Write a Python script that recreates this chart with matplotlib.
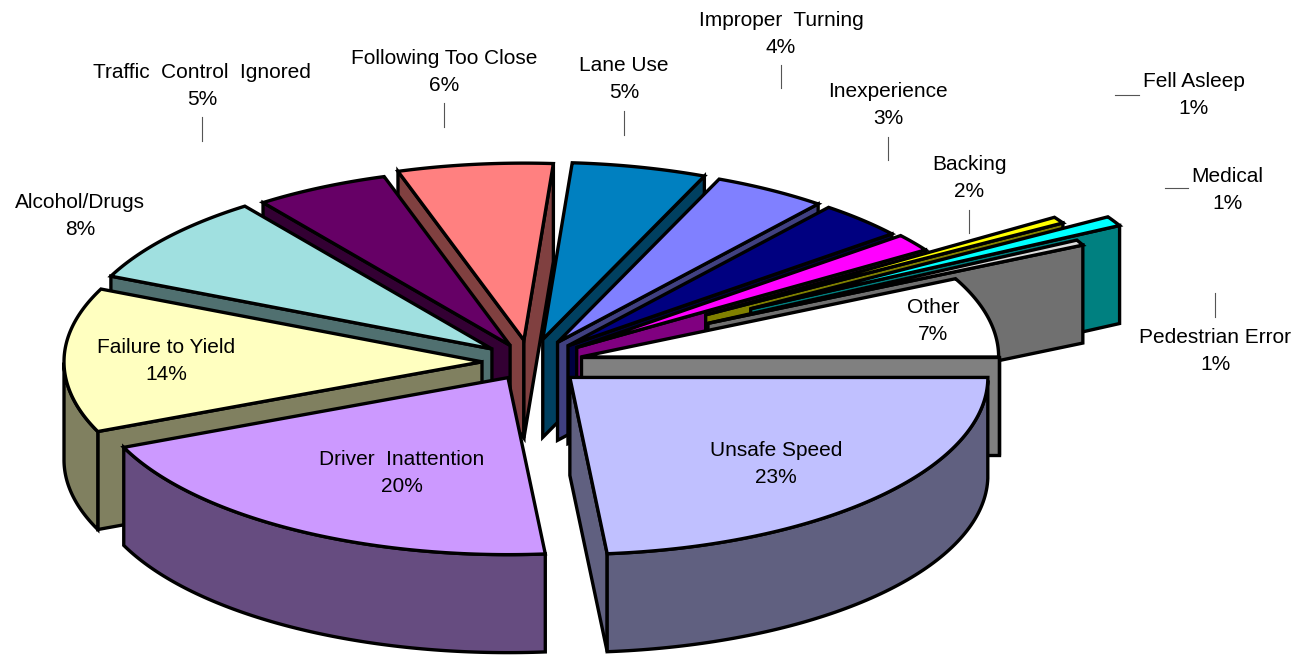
import matplotlib

matplotlib.use("Agg")
import matplotlib.pyplot as plt
import numpy as np
from matplotlib.patches import Polygon

plt.rcParams["font.family"] = ["Liberation Sans", "DejaVu Sans"]

# clockwise from the east, same order as the source table
causes = [
    "Unsafe Speed", "Driver  Inattention", "Failure to Yield", "Alcohol/Drugs",
    "Traffic  Control  Ignored", "Following Too Close", "Lane Use",
    "Improper  Turning", "Inexperience", "Backing", "Fell Asleep", "Medical",
    "Pedestrian Error", "Other",
]
# percentages as printed on the labels
printed = [23, 20, 14, 8, 5, 6, 5, 4, 3, 2, 1, 1, 1, 7]
# slice widths (printed ones are rounded)
shares = [23.6, 20.0, 13.2, 8.2, 5.2, 6.0, 5.2, 4.4, 3.4, 1.6, 0.6, 0.9, 0.5, 7.3]
# how far each slice is pulled out of the pie
explode = [54, 43, 48, 49, 44, 52, 55, 54, 54, 58, 208, 254, 200, 52]

top_colors = [
    "#C0C0FF", "#CC99FF", "#FFFFC0", "#A0E0E0", "#660066", "#FF8080", "#0080C0",
    "#8080FF", "#000080", "#FF00FF", "#FFFF00", "#00FFFF", "#DDDDDD", "#FFFFFF",
]
wall_colors = [
    "#606080", "#664C80", "#808060", "#507070", "#330033", "#804040", "#004060",
    "#404080", "#000040", "#800080", "#808000", "#008080", "#707070", "#808080",
]
# painter's order, back to front (indexes into causes)
draw_order = [5, 4, 6, 3, 7, 8, 2, 9, 10, 11, 12, 13, 1, 0]

label_pos = [
    (776, 464), (402, 473), (166, 361), (80, 216), (202, 86), (444, 72), (624, 79),
    (781, 34), (888, 105), (969, 178), (1194, 95), (1227, 190), (1215, 351), (933, 321),
]
leaders = [
    ((202, 117), (202, 141)), ((444, 103), (444, 127)), ((624, 111), (624, 135)),
    ((781, 65), (781, 88)), ((888, 137), (888, 160)), ((969, 210), (969, 233)),
    ((1115, 95), (1139, 95)), ((1165, 188), (1188, 188)), ((1215, 293), (1215, 317)),
]

CX, CY = 530, 362
RX, RY = 418, 177
DEPTH = 98


def slice_outline(a0, a1, off):
    # a0 > a1, degrees, going clockwise on screen
    mid = np.radians((a0 + a1) / 2)
    x0 = CX + off * np.cos(mid)
    y0 = CY - off * np.sin(mid) * RY / RX
    t = np.linspace(a0, a1, 90)
    return x0, y0, x0 + RX * np.cos(np.radians(t)), y0 - RY * np.sin(np.radians(t)), t


fig = plt.figure(figsize=(13.06, 6.56), dpi=100)
ax = fig.add_axes([0, 0, 1, 1])
ax.set_xlim(0, 1306)
ax.set_ylim(656, 0)
ax.axis("off")

edges = np.cumsum([0] + shares) / sum(shares) * 360
for z, i in enumerate(draw_order):
    a0, a1 = -edges[i], -edges[i + 1]
    x0, y0, xs, ys, t = slice_outline(a0, a1, explode[i])
    style = dict(fc=wall_colors[i], ec="black", lw=2.4, joinstyle="miter", zorder=z + 1)
    # only the walls that face the viewer
    if np.sin(np.radians(a0 + 90)) < 0:
        wall = [(x0, y0), (xs[0], ys[0]), (xs[0], ys[0] + DEPTH), (x0, y0 + DEPTH)]
        ax.add_patch(Polygon(wall, **style))
    if np.sin(np.radians(a1 - 90)) < 0:
        wall = [(x0, y0), (xs[-1], ys[-1]), (xs[-1], ys[-1] + DEPTH), (x0, y0 + DEPTH)]
        ax.add_patch(Polygon(wall, **style))
    front = np.sin(np.radians(t)) < 0
    if front.any():
        rim = np.r_[np.c_[xs[front], ys[front]], np.c_[xs[front], ys[front] + DEPTH][::-1]]
        ax.add_patch(Polygon(rim, **style))
    top = np.r_[[[x0, y0]], np.c_[xs, ys]]
    ax.add_patch(Polygon(top, fc=top_colors[i], ec="black", lw=2.4, joinstyle="miter", zorder=z + 1))

for p0, p1 in leaders:
    ax.plot([p0[0], p1[0]], [p0[1], p1[1]], color="#555555", lw=0.8, zorder=30)

for name, pct, (lx, ly) in zip(causes, printed, label_pos):
    ax.text(lx, ly, f"{name}\n{pct}%", ha="center", va="center", fontsize=15,
            linespacing=1.48, color="black", zorder=31)

fig.savefig("out.png", dpi=100)
